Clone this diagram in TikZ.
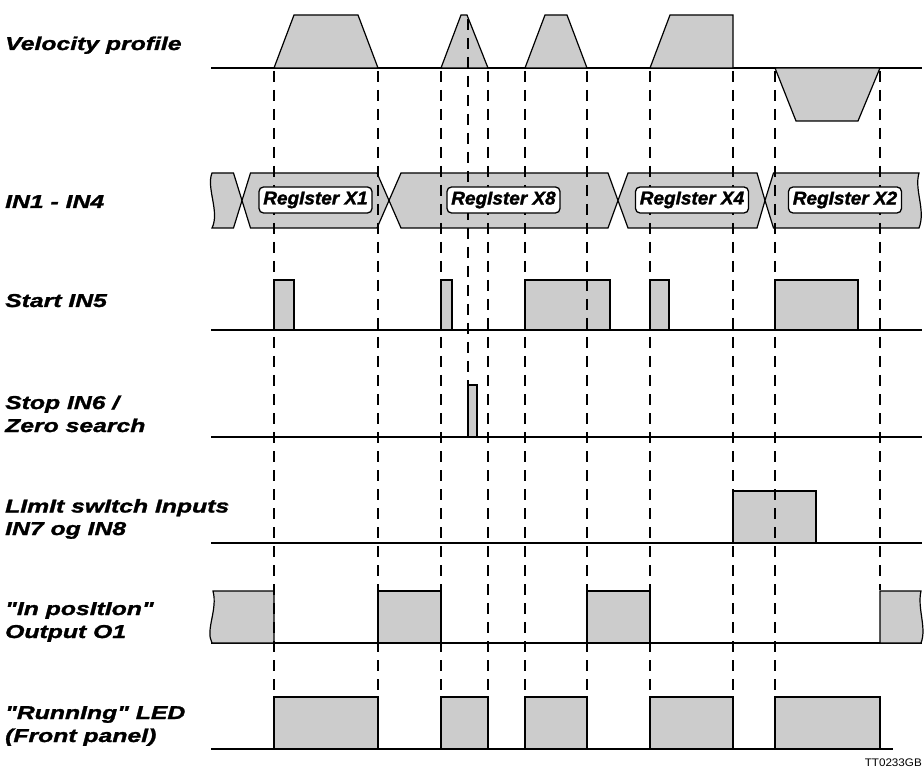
\documentclass[tikz,border=0pt]{standalone}
\usepackage{fontspec}
\newfontfamily\labfam{Liberation Sans}[FakeStretch=1.33,FakeBold=1.5]
\newfontfamily\regfam{Liberation Sans}[FakeStretch=1.02,FakeBold=1.5]
\newfontfamily\codefam{Liberation Sans}[FakeStretch=1.06]
\definecolor{sgray}{RGB}{204,204,204}
\begin{document}
\begin{tikzpicture}[x=1pt,y=-1pt,
  base/.style={line width=1.3pt},
  sig/.style={fill=sgray,draw=black,line width=1.2pt,line join=miter},
  guide/.style={line width=1.8pt,dash pattern=on 11pt off 8pt},
  reg/.style={draw,fill=white,rounded corners=4.5pt,line width=1.3pt,minimum width=113pt,minimum height=26pt,inner sep=0pt,font=\regfam\bfseries\itshape\fontsize{18.6}{20}\selectfont},
  lab/.style={anchor=base west,inner sep=0pt,font=\labfam\bfseries\itshape\fontsize{18.6}{22}\selectfont},
  code/.style={anchor=base east,inner sep=0pt,font=\codefam\fontsize{11}{12}\selectfont}]
\useasboundingbox (0,0) rectangle (924,767);

% time marks
\coordinate (t1) at (274,0);
\coordinate (t2) at (378,0);
\coordinate (t3) at (441,0);
\coordinate (t4) at (468,0);
\coordinate (t5) at (488,0);
\coordinate (t6) at (525,0);
\coordinate (t7) at (587,0);
\coordinate (t8) at (650,0);
\coordinate (t9) at (733,0);
\coordinate (t10) at (775,0);
\coordinate (t11) at (880,0);
% levels
\coordinate (yV) at (0,68);
\coordinate (yVs) at (0,71);
\coordinate (yTri) at (0,19);
\coordinate (ySt) at (0,330);
\coordinate (ySp) at (0,437);
\coordinate (ySpTop) at (0,384);
\coordinate (yLm) at (0,543);
\coordinate (yIp) at (0,643);
\coordinate (yIpTop) at (0,590);
\coordinate (yRn) at (0,749);
\coordinate (yRnTop) at (0,697);

% base lines
\draw[base] (211,68) -- (922,68);
\draw[base] (211,330) -- (922,330);
\draw[base] (211,437) -- (922,437);
\draw[base] (211,543) -- (922,543);
\draw[base] (211,643) -- (922,643);
\draw[base] (211,749) -- (893,749);

% velocity profile
\draw[sig] (274,68) -- (294,15) -- (358,15) -- (378,68) -- cycle;
\draw[sig] (441,68) -- (461,15) -- (467,15) -- (488,68) -- cycle;
\draw[sig] (525,68) -- (545,15) -- (567,15) -- (587,68) -- cycle;
\draw[sig] (650,68) -- (670,15) -- (733,15) -- (733,68) -- cycle;
\draw[sig] (775,68) -- (796,121) -- (858,121) -- (880,68) -- cycle;

% IN1 - IN4 bus
\draw[sig] (212,173) -- (233.5,173) -- (242,200.5) -- (233.5,228) -- (212,228)
  .. controls (220,212) and (206,188) .. (212,173) -- cycle;
\draw[sig] (242,200.5) -- (250.5,173) -- (377,173) -- (389,200.5) -- (377,228) -- (250.5,228) -- cycle;
\draw[sig] (389,200.5) -- (401,173) -- (608,173) -- (618,200.5) -- (608,228) -- (401,228) -- cycle;
\draw[sig] (618,200.5) -- (628,173) -- (757,173) -- (765,200.5) -- (757,228) -- (628,228) -- cycle;
\draw[sig] (765,200.5) -- (773.5,173) -- (919,173)
  .. controls (914,190) and (926,210) .. (919,228) -- (773.5,228) -- cycle;

% Start IN5
\draw[sig] (274,280) rectangle (294,330);
\draw[sig] (441,280) rectangle (452,330);
\draw[sig] (525,280) rectangle (610,330);
\draw[sig] (650,280) rectangle (669,330);
\draw[sig] (775,280) rectangle (858,330);

% Stop IN6
\draw[sig] (468,385) rectangle (477,437);

% Limit switch
\draw[sig] (733,491) rectangle (816,543);

% In position
\draw[sig] (274,643) -- (274,591) -- (213,591)
  .. controls (218,610) and (205,630) .. (212,643) -- cycle;
\draw[sig] (378,591) rectangle (441,643);
\draw[sig] (587,591) rectangle (650,643);
\draw[sig] (880,643) -- (880,591) -- (921,591)
  .. controls (917,608) and (927,628) .. (921,643) -- cycle;

% Running LED
\draw[sig] (274,697) rectangle (378,749);
\draw[sig] (441,697) rectangle (488,749);
\draw[sig] (525,697) rectangle (587,749);
\draw[sig] (650,697) rectangle (733,749);
\draw[sig] (775,697) rectangle (880,749);

% guide lines
\foreach \t in {t1,t2,t3,t5,t6,t7,t8,t9,t10}
  \draw[guide] (\t |- yVs) -- (\t |- yRnTop);
\draw[guide] (t4 |- yTri) -- (t4 |- ySpTop);
\draw[guide] (t11 |- yVs) -- (t11 |- yIpTop);

% register boxes
\node[reg] (rx1) at (315.5,200) {RegIster X1};
\node[reg] (rx8) at (503.5,200) {RegIster X8};
\node[reg] (rx4) at (692,200) {RegIster X4};
\node[reg] (rx2) at (845,200) {RegIster X2};

% labels
\node[lab] (lv) at (5,50) {Velocity profile};
\node[lab] (lin) at (5,208) {IN1 - IN4};
\node[lab] (lst) at (5,307) {Start IN5};
\node[lab] (lspa) at (5,409) {Stop IN6 /};
\node[lab] (lspb) at (5,432) {Zero search};
\node[lab] (llma) at (5,512.5) {LImIt swItch Inputs};
\node[lab] (llmb) at (5,535) {IN7 og IN8};
\node[lab] (lipa) at (5,615) {"In posItIon"};
\node[lab] (lipb) at (5,638) {Output O1};
\node[lab] (lrna) at (5,719) {"RunnIng" LED};
\node[lab] (lrnb) at (5,742) {(Front panel)};
\node[code] (tcode) at (922,766) {TT0233GB};
\end{tikzpicture}
\end{document}
